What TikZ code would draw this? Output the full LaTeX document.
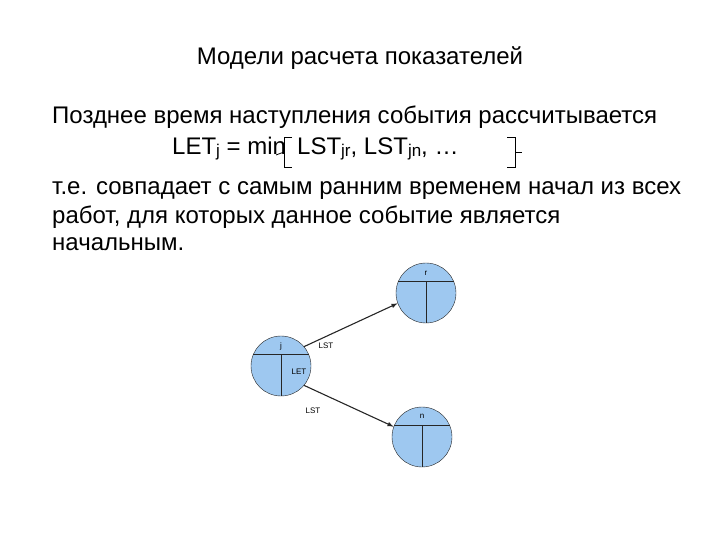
\documentclass[tikz,border=0pt]{standalone}
\usepackage{fontspec}
\setmainfont{Liberation Sans}
\begin{document}
\begin{tikzpicture}[x=1pt,y=-1pt,
  body/.style={anchor=base west,inner sep=0pt,font=\fontsize{24}{28}\selectfont},
  ev/.style={circle,draw=black!85,fill={rgb,255:red,158;green,200;blue,240},minimum size=60pt,inner sep=0pt},
  small/.style={inner sep=0pt,font=\fontsize{8}{9}\selectfont},
  arr/.style={draw=black!85,line width=1.1pt,-latex}]
\useasboundingbox (0,0) rectangle (720,540);
\newcommand\sbs[1]{\raisebox{-2pt}{\fontsize{17}{17}\selectfont #1}}
\node[anchor=base,inner sep=0pt,font=\fontsize{24}{28}\selectfont] (title) at (360,65) {Модели расчета показателей};
\node[body] (l1) at (52,124) {Позднее время наступления события рассчитывается};
\node[body] (l2a) at (172,155) {LET\sbs{j} = min};
\node[body] (l2b) at (297,155) {LST\sbs{jr}, LST\sbs{jn}, …};
\node[body] (l3) at (52,195) {т.е. совпадает с самым ранним временем начал из всех};
\node[body] (l4) at (52,223) {работ, для которых данное событие является};
\node[body] (l5) at (52,251) {начальным.};
% braces
\draw[line width=0.8pt] (292,137) -- (284,137) -- (284,167) -- (292,167);
\draw[line width=0.8pt] (284,152) -- (276,155);
\draw[line width=0.8pt] (507,137) -- (515,137) -- (515,167) -- (507,167);
\draw[line width=0.8pt] (515,152) -- (522,152);
% events
\node[ev] (j) at (281,366) {};
\node[ev] (r) at (426,293) {};
\node[ev] (n) at (422,437) {};
\draw[black!85] (253,354) -- (309,354) (281,354) -- (j.south);
\draw[black!85] (398,281) -- (454,281) (426,281) -- (r.south);
\draw[black!85] (394,425) -- (450,425) (422,425) -- (n.south);
\node[small] (jl) at (281,346) {j};
\node[small] (rl) at (426,273) {r};
\node[small] (nl) at (422,416) {n};
\node[small] (lst1) at (326,346) {LST};
\node[small] (let) at (299,372) {LET};
\node[small] (lst2) at (313,411) {LST};
\draw[arr] (j.40) -- (r.200);
\draw[arr] (j.-40) -- (n.160);
\end{tikzpicture}
\end{document}
